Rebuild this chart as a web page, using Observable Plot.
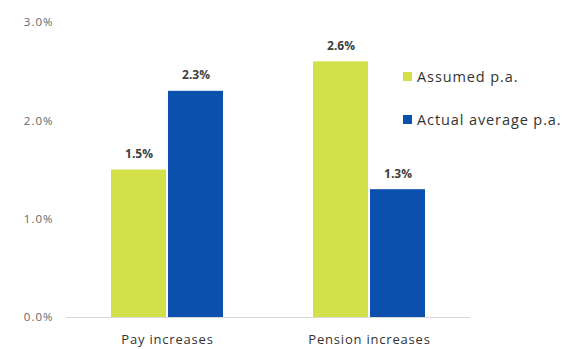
<!DOCTYPE html>
<html>
<head>
<meta charset="utf-8">
<script src="https://cdn.jsdelivr.net/npm/d3@7"></script>
<script src="https://cdn.jsdelivr.net/npm/@observablehq/plot@0.6"></script>
<style>
  html, body { margin: 0; padding: 0; background: #fff; }
  #wrap { position: relative; width: 570px; height: 349px; font-family: "Open Sans", sans-serif; }
  .legend { position: absolute; left: 403px; font-size: 14.5px; letter-spacing: 0.9px; color: #333; display: flex; align-items: center; white-space: nowrap; }
  .sw { width: 9px; height: 9px; margin-right: 5px; display: inline-block; }
</style>
</head>
<body>
<div id="wrap"></div>
<script>
const categories = ["Pay increases", "Pension increases"];
const series = ["Assumed p.a.", "Actual average p.a."];
const assumed = [1.5, 2.6];
const actual = [2.3, 1.3];
const colors = ["#d4e04a", "#0b50ad"];
const yTicks = [0, 1, 2, 3];

const data = [];
categories.forEach((c, i) => {
  data.push({category: c, series: series[0], value: assumed[i]});
  data.push({category: c, series: series[1], value: actual[i]});
});

const chart = Plot.plot({
  width: 570,
  height: 349,
  marginLeft: 65,
  marginRight: 100,
  marginTop: 22,
  marginBottom: 32,
  style: {fontFamily: "'Open Sans', sans-serif", background: "#fff"},
  fx: {domain: categories, padding: 0, label: null, axis: "bottom", tickSize: 0, tickPadding: 17},
  x: {domain: series, paddingInner: 0.03, paddingOuter: 0.78, axis: null},
  y: {domain: [0, 3], ticks: yTicks, tickFormat: d => d.toFixed(1) + "%", label: null, tickSize: 0, tickPadding: 13},
  color: {domain: series, range: colors},
  marks: [
    Plot.ruleY([0], {stroke: "#d9d9d9", strokeWidth: 1}),
    Plot.barY(data, {fx: "category", x: "series", y: "value", fill: "series"}),
    Plot.text(data, {fx: "category", x: "series", y: "value", text: d => d.value.toFixed(1) + "%", dy: -16, fontSize: 12, fontWeight: "bold", fill: "#404040"})
  ]
});
chart.querySelectorAll("[aria-label='y-axis tick label'] text").forEach(t => { t.setAttribute("fill", "#666"); t.style.fontSize = "11.5px"; t.style.letterSpacing = "1px"; });
chart.querySelectorAll("[aria-label='fx-axis tick label'] text").forEach(t => { t.setAttribute("fill", "#333"); t.style.fontSize = "13px"; t.style.letterSpacing = "0.8px"; });
const wrap = document.getElementById("wrap");
wrap.appendChild(chart);
series.forEach((s, i) => {
  const div = document.createElement("div");
  div.className = "legend";
  div.style.top = (67 + i * 43) + "px";
  div.innerHTML = `<span class="sw" style="background:${colors[i]}"></span>${s}`;
  wrap.appendChild(div);
});
</script>
</body>
</html>
